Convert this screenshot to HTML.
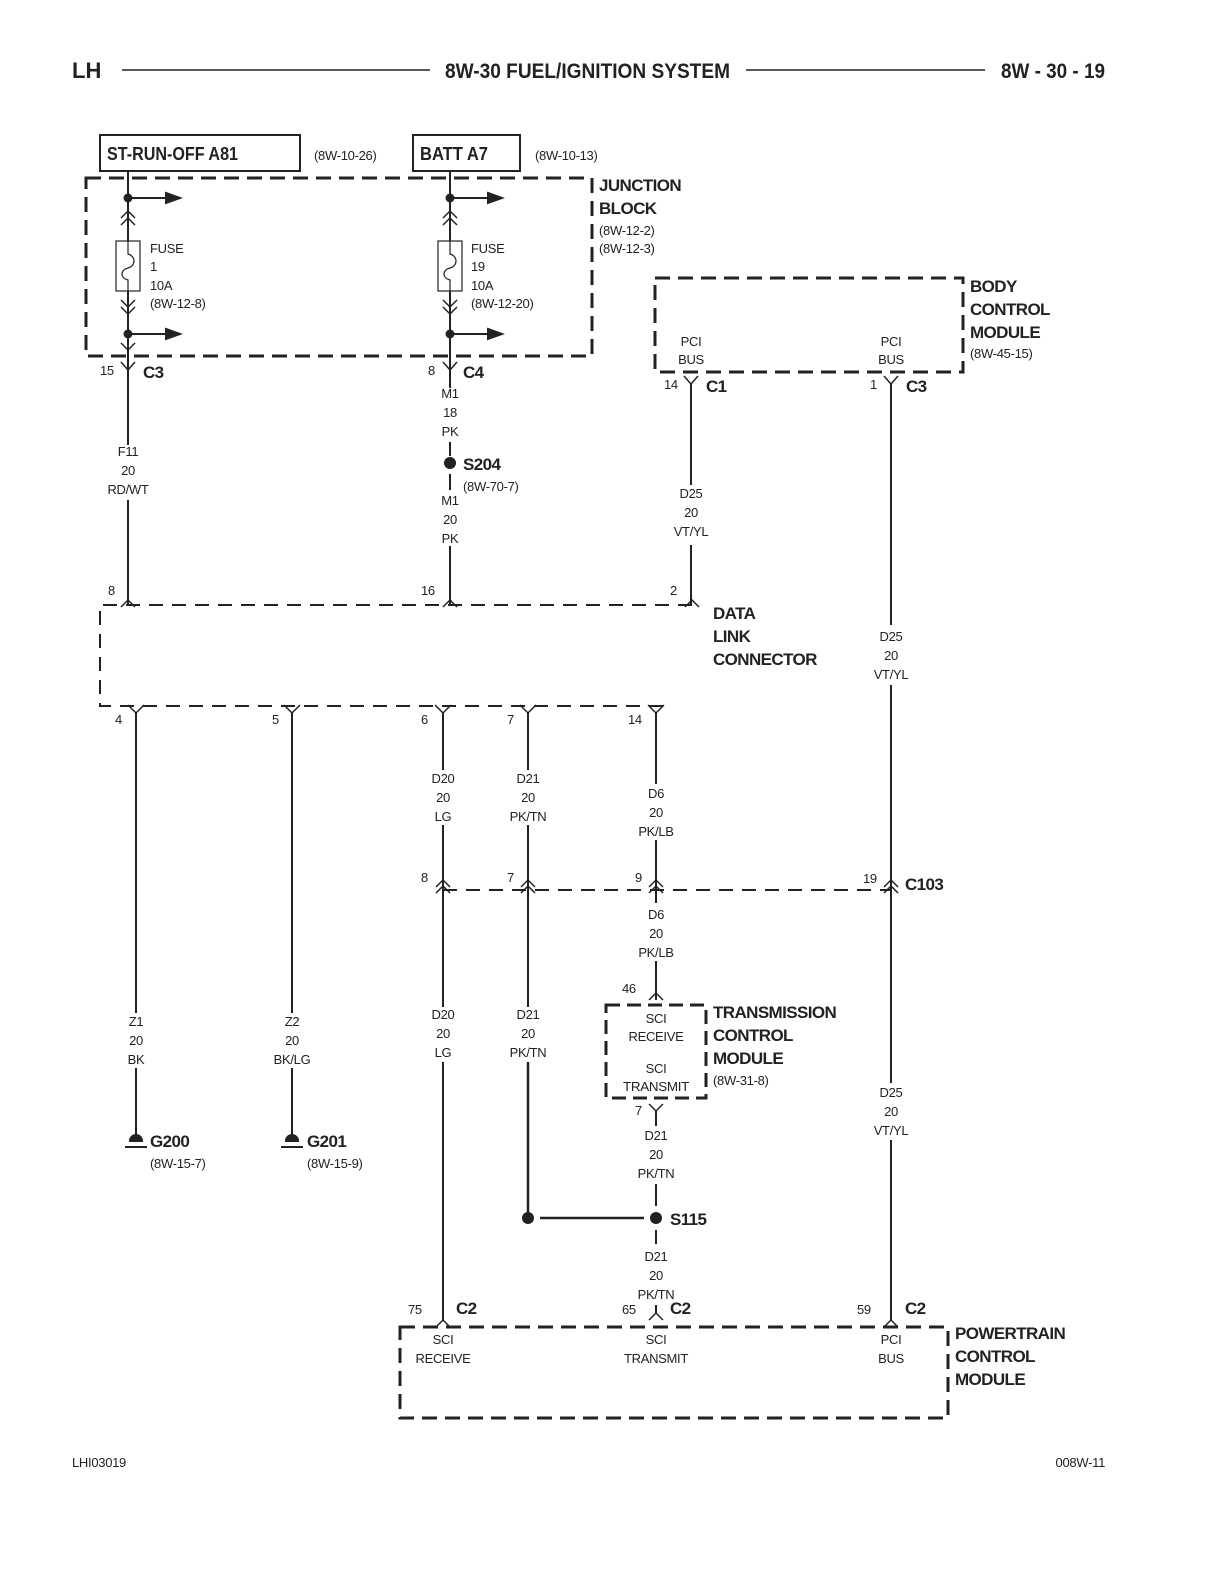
<!DOCTYPE html>
<html><head><meta charset="utf-8"><style>
html,body{margin:0;padding:0;background:#fff}
svg{display:block}
text{font-family:"Liberation Sans",sans-serif;fill:#222}
.s{font-size:13px;letter-spacing:-0.3px}
.c{font-size:13px;text-anchor:middle;letter-spacing:-0.3px}
.b{font-size:19px;font-weight:bold}
.bc{font-size:17px;font-weight:bold;letter-spacing:-0.6px}
</style></head><body>
<svg width="1224" height="1584" viewBox="0 0 1224 1584" xmlns="http://www.w3.org/2000/svg">
<g stroke="#222" fill="none" stroke-width="2">
<line x1="122" y1="70" x2="430" y2="70" stroke-width="1.5"/>
<line x1="746" y1="70" x2="985" y2="70" stroke-width="1.5"/>
<rect x="100" y="135" width="200" height="36"/>
<rect x="413" y="135" width="107" height="36"/>
<rect x="86" y="178" width="506" height="178" stroke-width="3" stroke-dasharray="15 8"/>
<rect x="655" y="278" width="308" height="94" stroke-width="3" stroke-dasharray="15 8"/>
<path d="M692 605 H100 V706 H665" stroke-dasharray="14 9"/>
<line x1="443" y1="890" x2="891" y2="890" stroke-dasharray="14 9"/>
<rect x="606" y="1005" width="100" height="93" stroke-width="3" stroke-dasharray="14 7"/>
<rect x="400" y="1327" width="548" height="91" stroke-width="3" stroke-dasharray="15 8"/>

<line x1="128" y1="171" x2="128" y2="241"/>
<line x1="128" y1="291" x2="128" y2="445"/>
<line x1="128" y1="500" x2="128" y2="605"/>
<rect x="116" y="241" width="24" height="50" stroke-width="1.2"/>
<path d="M128 241 V254 C136 256 136 266 128 268 C120 270 120 278 128 280 V291" stroke-width="1.2"/>
<line x1="128" y1="198" x2="170" y2="198"/><path d="M166 193 L180 198 L166 203 Z" fill="#222"/>
<line x1="128" y1="334" x2="170" y2="334"/><path d="M166 329 L180 334 L166 339 Z" fill="#222"/>
<circle cx="128" cy="198" r="3.5" fill="#222"/><circle cx="128" cy="334" r="3.5" fill="#222"/>
<path d="M121 218 L128 211 L135 218 M121 225 L128 218 L135 225" stroke-width="1.5"/>
<path d="M121 300 L128 307 L135 300 M121 307 L128 314 L135 307" stroke-width="1.5"/>
<path d="M121 343 L128 350 L135 343" stroke-width="1.5"/>
<path d="M121 362 L128 370 L135 362" stroke-width="1.5"/>

<line x1="450" y1="171" x2="450" y2="241"/>
<line x1="450" y1="291" x2="450" y2="388"/>
<line x1="450" y1="442" x2="450" y2="456"/>
<line x1="450" y1="474" x2="450" y2="490"/>
<line x1="450" y1="546" x2="450" y2="605"/>
<rect x="438" y="241" width="24" height="50" stroke-width="1.2"/>
<path d="M450 241 V254 C458 256 458 266 450 268 C442 270 442 278 450 280 V291" stroke-width="1.2"/>
<line x1="450" y1="198" x2="492" y2="198"/><path d="M488 193 L502 198 L488 203 Z" fill="#222"/>
<line x1="450" y1="334" x2="492" y2="334"/><path d="M488 329 L502 334 L488 339 Z" fill="#222"/>
<circle cx="450" cy="198" r="3.5" fill="#222"/><circle cx="450" cy="334" r="3.5" fill="#222"/>
<path d="M443 218 L450 211 L457 218 M443 225 L450 218 L457 225" stroke-width="1.5"/>
<path d="M443 300 L450 307 L457 300 M443 307 L450 314 L457 307" stroke-width="1.5"/>
<path d="M443 362 L450 370 L457 362" stroke-width="1.5"/>
<circle cx="450" cy="463" r="5" fill="#222"/>

<path d="M684 376 L691 384 L698 376" stroke-width="1.5"/>
<path d="M884 376 L891 384 L898 376" stroke-width="1.5"/>
<line x1="691" y1="384" x2="691" y2="485"/>
<line x1="691" y1="545" x2="691" y2="605"/>
<line x1="891" y1="384" x2="891" y2="625"/>
<line x1="891" y1="685" x2="891" y2="1083"/>
<line x1="891" y1="1140" x2="891" y2="1320"/>

<path d="M121 607 L128 600 L135 607" stroke-width="1.5"/>
<path d="M443 607 L450 600 L457 607" stroke-width="1.5"/>
<path d="M685 607 L692 600 L699 607" stroke-width="1.5"/>
<path d="M128 705 L136 713 L144 705" stroke-width="1.5"/>
<path d="M284 705 L292 713 L300 705" stroke-width="1.5"/>
<path d="M435 705 L443 713 L451 705" stroke-width="1.5"/>
<path d="M520 705 L528 713 L536 705" stroke-width="1.5"/>
<path d="M648 705 L656 713 L664 705" stroke-width="1.5"/>

<line x1="136" y1="713" x2="136" y2="1013"/>
<line x1="136" y1="1068" x2="136" y2="1135"/>
<line x1="292" y1="713" x2="292" y2="1013"/>
<line x1="292" y1="1068" x2="292" y2="1135"/>
<path d="M130 1141 A6 6 0 0 1 142 1141 Z" fill="#222"/><line x1="125" y1="1147" x2="147" y2="1147"/>
<path d="M286 1141 A6 6 0 0 1 298 1141 Z" fill="#222"/><line x1="281" y1="1147" x2="303" y2="1147"/>

<line x1="443" y1="713" x2="443" y2="770"/>
<line x1="443" y1="825" x2="443" y2="1007"/>
<line x1="443" y1="1062" x2="443" y2="1320"/>
<path d="M436 887 L443 880 L450 887 M436 893 L443 886 L450 893" stroke-width="1.5"/>
<path d="M436 1327 L443 1320 L450 1327" stroke-width="1.5"/>
<line x1="528" y1="713" x2="528" y2="770"/>
<line x1="528" y1="825" x2="528" y2="1007"/>
<line x1="528" y1="1062" x2="528" y2="1218" stroke-width="2.5"/>
<path d="M521 887 L528 880 L535 887 M521 893 L528 886 L535 893" stroke-width="1.5"/>
<circle cx="528" cy="1218" r="5" fill="#222"/>
<line x1="540" y1="1218" x2="644" y2="1218" stroke-width="2.5"/>
<line x1="656" y1="713" x2="656" y2="784"/>
<line x1="656" y1="840" x2="656" y2="903"/>
<line x1="656" y1="961" x2="656" y2="1000"/>
<path d="M649 887 L656 880 L663 887 M649 893 L656 886 L663 893" stroke-width="1.5"/>
<path d="M649 1000 L656 993 L663 1000" stroke-width="1.5"/>
<path d="M649 1104 L656 1111 L663 1104" stroke-width="1.5"/>
<line x1="656" y1="1111" x2="656" y2="1126"/>
<line x1="656" y1="1184" x2="656" y2="1206"/>
<circle cx="656" cy="1218" r="5" fill="#222"/>
<line x1="656" y1="1230" x2="656" y2="1244"/>
<path d="M649 1320 L656 1313 L663 1320" stroke-width="1.5"/>
<line x1="656" y1="1305" x2="656" y2="1313"/>
<path d="M884 887 L891 880 L898 887 M884 893 L891 886 L898 893" stroke-width="1.5"/>
<path d="M884 1327 L891 1320 L898 1327" stroke-width="1.5"/>
</g>

<text x="72" y="78" class="b" style="font-size:22px">LH</text>
<text x="445" y="78" class="b" style="font-size:21px" textLength="285" lengthAdjust="spacingAndGlyphs">8W-30 FUEL/IGNITION SYSTEM</text>
<text x="1001" y="78" class="b" style="font-size:21px" textLength="104" lengthAdjust="spacingAndGlyphs">8W - 30 - 19</text>

<text x="107" y="160" class="b" style="font-size:18px" textLength="131" lengthAdjust="spacingAndGlyphs">ST-RUN-OFF A81</text>
<text x="314" y="160" class="s">(8W-10-26)</text>
<text x="420" y="160" class="b" style="font-size:18px" textLength="68" lengthAdjust="spacingAndGlyphs">BATT A7</text>
<text x="535" y="160" class="s">(8W-10-13)</text>

<text x="599" y="191" class="bc">JUNCTION</text>
<text x="599" y="214" class="bc">BLOCK</text>
<text x="599" y="235" class="s">(8W-12-2)</text>
<text x="599" y="253" class="s">(8W-12-3)</text>

<text x="150" y="253" class="s">FUSE</text><text x="150" y="271" class="s">1</text><text x="150" y="290" class="s">10A</text><text x="150" y="308" class="s">(8W-12-8)</text>
<text x="471" y="253" class="s">FUSE</text><text x="471" y="271" class="s">19</text><text x="471" y="290" class="s">10A</text><text x="471" y="308" class="s">(8W-12-20)</text>

<text x="100" y="375" class="s">15</text><text x="143" y="378" class="bc">C3</text>
<text x="428" y="375" class="s">8</text><text x="463" y="378" class="bc">C4</text>

<text x="450" y="398" class="c">M1</text><text x="450" y="417" class="c">18</text><text x="450" y="436" class="c">PK</text>
<text x="463" y="470" class="bc">S204</text><text x="463" y="491" class="s">(8W-70-7)</text>
<text x="450" y="505" class="c">M1</text><text x="450" y="524" class="c">20</text><text x="450" y="543" class="c">PK</text>
<text x="128" y="456" class="c">F11</text><text x="128" y="475" class="c">20</text><text x="128" y="494" class="c">RD/WT</text>

<text x="970" y="292" class="bc">BODY</text><text x="970" y="315" class="bc">CONTROL</text><text x="970" y="338" class="bc">MODULE</text>
<text x="970" y="358" class="s">(8W-45-15)</text>
<text x="691" y="346" class="c">PCI</text><text x="691" y="364" class="c">BUS</text>
<text x="891" y="346" class="c">PCI</text><text x="891" y="364" class="c">BUS</text>
<text x="664" y="389" class="s">14</text><text x="706" y="392" class="bc">C1</text>
<text x="870" y="389" class="s">1</text><text x="906" y="392" class="bc">C3</text>
<text x="691" y="498" class="c">D25</text><text x="691" y="517" class="c">20</text><text x="691" y="536" class="c">VT/YL</text>
<text x="891" y="641" class="c">D25</text><text x="891" y="660" class="c">20</text><text x="891" y="679" class="c">VT/YL</text>
<text x="891" y="1097" class="c">D25</text><text x="891" y="1116" class="c">20</text><text x="891" y="1135" class="c">VT/YL</text>

<text x="108" y="595" class="s">8</text><text x="421" y="595" class="s">16</text><text x="670" y="595" class="s">2</text>
<text x="713" y="619" class="bc">DATA</text><text x="713" y="642" class="bc">LINK</text><text x="713" y="665" class="bc">CONNECTOR</text>
<text x="115" y="724" class="s">4</text><text x="272" y="724" class="s">5</text><text x="421" y="724" class="s">6</text><text x="507" y="724" class="s">7</text><text x="628" y="724" class="s">14</text>

<text x="443" y="783" class="c">D20</text><text x="443" y="802" class="c">20</text><text x="443" y="821" class="c">LG</text>
<text x="528" y="783" class="c">D21</text><text x="528" y="802" class="c">20</text><text x="528" y="821" class="c">PK/TN</text>
<text x="656" y="798" class="c">D6</text><text x="656" y="817" class="c">20</text><text x="656" y="836" class="c">PK/LB</text>
<text x="421" y="882" class="s">8</text><text x="507" y="882" class="s">7</text><text x="635" y="882" class="s">9</text><text x="863" y="883" class="s">19</text>
<text x="905" y="890" class="bc">C103</text>
<text x="656" y="919" class="c">D6</text><text x="656" y="938" class="c">20</text><text x="656" y="957" class="c">PK/LB</text>
<text x="622" y="993" class="s">46</text>
<text x="656" y="1023" class="c">SCI</text><text x="656" y="1041" class="c">RECEIVE</text>
<text x="656" y="1073" class="c">SCI</text><text x="656" y="1091" class="c" textLength="66" lengthAdjust="spacingAndGlyphs">TRANSMIT</text>
<text x="713" y="1018" class="bc">TRANSMISSION</text><text x="713" y="1041" class="bc">CONTROL</text><text x="713" y="1064" class="bc">MODULE</text>
<text x="713" y="1085" class="s">(8W-31-8)</text>
<text x="635" y="1115" class="s">7</text>
<text x="656" y="1140" class="c">D21</text><text x="656" y="1159" class="c">20</text><text x="656" y="1178" class="c">PK/TN</text>
<text x="670" y="1225" class="bc">S115</text>
<text x="656" y="1261" class="c">D21</text><text x="656" y="1280" class="c">20</text><text x="656" y="1299" class="c">PK/TN</text>

<text x="136" y="1026" class="c">Z1</text><text x="136" y="1045" class="c">20</text><text x="136" y="1064" class="c">BK</text>
<text x="292" y="1026" class="c">Z2</text><text x="292" y="1045" class="c">20</text><text x="292" y="1064" class="c">BK/LG</text>
<text x="443" y="1019" class="c">D20</text><text x="443" y="1038" class="c">20</text><text x="443" y="1057" class="c">LG</text>
<text x="528" y="1019" class="c">D21</text><text x="528" y="1038" class="c">20</text><text x="528" y="1057" class="c">PK/TN</text>
<text x="150" y="1147" class="bc">G200</text><text x="150" y="1168" class="s">(8W-15-7)</text>
<text x="307" y="1147" class="bc">G201</text><text x="307" y="1168" class="s">(8W-15-9)</text>

<text x="408" y="1314" class="s">75</text><text x="456" y="1314" class="bc">C2</text>
<text x="622" y="1314" class="s">65</text><text x="670" y="1314" class="bc">C2</text>
<text x="857" y="1314" class="s">59</text><text x="905" y="1314" class="bc">C2</text>
<text x="443" y="1344" class="c">SCI</text><text x="443" y="1363" class="c">RECEIVE</text>
<text x="656" y="1344" class="c">SCI</text><text x="656" y="1363" class="c">TRANSMIT</text>
<text x="891" y="1344" class="c">PCI</text><text x="891" y="1363" class="c">BUS</text>
<text x="955" y="1339" class="bc">POWERTRAIN</text><text x="955" y="1362" class="bc">CONTROL</text><text x="955" y="1385" class="bc">MODULE</text>

<text x="72" y="1467" class="s">LHI03019</text>
<text x="1105" y="1467" class="s" style="text-anchor:end">008W-11</text>
</svg>
</body></html>
